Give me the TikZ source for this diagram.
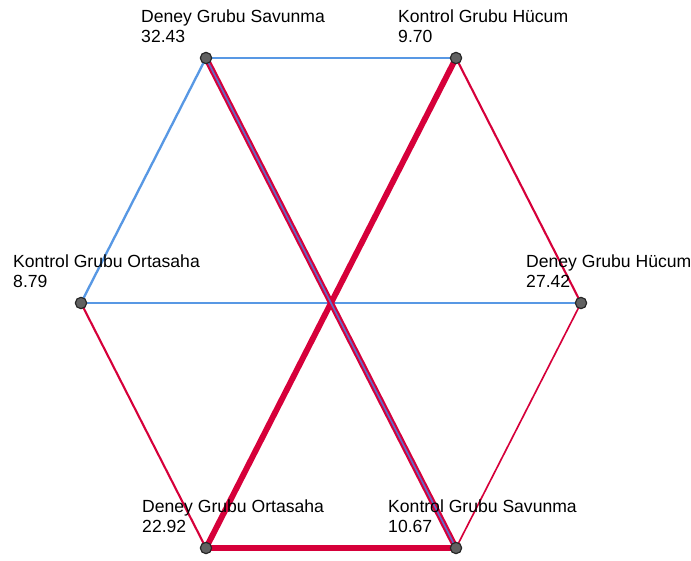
\documentclass[tikz,border=0pt]{standalone}
\usepackage{fontspec}
\setmainfont{Liberation Sans}
\usepackage{tikz}
\usetikzlibrary{positioning,backgrounds}
\definecolor{linkblue}{RGB}{88,152,228}
\definecolor{linkred}{RGB}{214,0,58}

\begin{document}
\begin{tikzpicture}[
  x=0.03cm, y=-0.03cm,
  pt/.style={circle, draw=black!85, fill=black!62, line width=1pt, minimum size=0.34cm, inner sep=0},
  lab/.style={anchor=south west, inner sep=0, align=left, font=\fontsize{15}{17}\selectfont},
  bl/.style={linkblue, line width=2pt},
  rthin/.style={linkred, line width=1.8pt},
  rthick/.style={linkred, line width=5pt}
]
\useasboundingbox (0,0) rectangle (691,561);

% points of the hexagon
\node[pt] (dgs) at (206,58) {};
\node[pt] (kgh) at (456,58) {};
\node[pt] (dgh) at (581,303) {};
\node[pt] (kgs) at (456,548) {};
\node[pt] (dgo) at (206,548) {};
\node[pt] (kgo) at (81,303) {};

\node[lab] (ldgs) at (141,43) {Deney Grubu Savunma\\32.43};
\node[lab] (lkgh) at (398,43) {Kontrol Grubu Hücum\\9.70};
\node[lab] (lkgo) at (13,288) {Kontrol Grubu Ortasaha\\8.79};
\node[lab] (ldgh) at (526,288) {Deney Grubu Hücum\\27.42};
\node[lab] (ldgo) at (142,533) {Deney Grubu Ortasaha\\22.92};
\node[lab] (lkgs) at (388,533) {Kontrol Grubu Savunma\\10.67};

% links, kept under the points
\begin{pgfonlayer}{background}
\draw[bl] (dgs.center) -- (kgh.center);
\draw[bl] (dgs.center) -- (kgo.center);
\draw[bl] (kgo.center) -- (dgh.center);
\draw[rthin] (kgh.center) -- (dgh.center);
\draw[rthin, line width=1.4pt] (dgh.center) -- (kgs.center);
\draw[rthin] (kgo.center) -- (dgo.center);
\draw[rthick] (kgh.center) -- (dgo.center);
\draw[rthick] (dgo.center) -- (kgs.center);
\draw[rthick] (dgs.center) -- (kgs.center);
\draw[linkblue!70!violet, line width=1.4pt] (dgs.center) -- (kgs.center);
\end{pgfonlayer}
\end{tikzpicture}
\end{document}
